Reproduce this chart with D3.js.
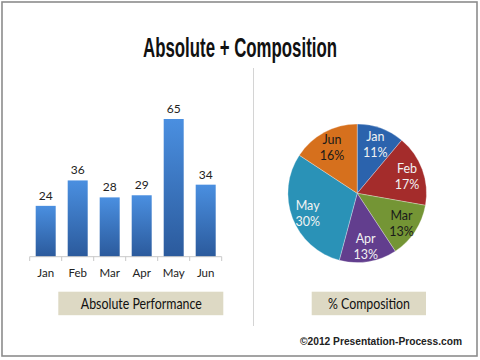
<!DOCTYPE html>
<html><head><meta charset="utf-8">
<script src="https://cdn.jsdelivr.net/npm/d3@7"></script>
<style>body{margin:0;background:#fff}svg{display:block}</style>
</head><body>
<svg id="c" width="480" height="360"></svg>
<script>
const months = ["Jan","Feb","Mar","Apr","May","Jun"];
const values = [24,36,28,29,65,34];
const pieColors = ["#2f6cbd","#b3302f","#7fa33a","#6b449b","#2ea0c8","#ea7a20"];
const pieLabelDark = [false,false,true,false,false,true];
const title = "Absolute + Composition";
const barCaption = "Absolute Performance";
const pieCaption = "% Composition";
const credit = "\u00a92012 Presentation-Process.com";

const svg = d3.select("#c");
const defs = svg.append("defs");
const bg = defs.append("linearGradient").attr("id","barGrad").attr("x1",0).attr("y1",0).attr("x2",0).attr("y2",1);
bg.append("stop").attr("offset","0%").attr("stop-color","#4a8fe0");
bg.append("stop").attr("offset","100%").attr("stop-color","#2b5a9c");

// frame
svg.append("rect").attr("x",2).attr("y",2).attr("width",475).attr("height",354)
  .attr("fill","#fff").attr("stroke","#8c8c8c").attr("stroke-width",1.6);

// title
svg.append("text").attr("x",240).attr("y",57).attr("text-anchor","middle")
  .attr("font-family","'Liberation Sans',Arial,sans-serif")
  .attr("font-weight","bold").attr("font-size",27)
  .attr("textLength",194).attr("lengthAdjust","spacingAndGlyphs")
  .attr("fill","#111").text(title);

// divider
svg.append("line").attr("x1",253.5).attr("x2",253.5).attr("y1",68).attr("y2",326)
  .attr("stroke","#d4d4d4").attr("stroke-width",1);

// bar chart
const x = d3.scaleBand().domain(months).range([29.7,221.7]).paddingInner(0.375).paddingOuter(0.1875);
const y = d3.scaleLinear().domain([0,65]).range([256.7,119]);
const g = svg.append("g");
g.selectAll("rect.bar").data(values).join("rect").attr("class","bar")
  .attr("x",(d,i)=>x(months[i])).attr("width",x.bandwidth())
  .attr("y",d=>y(d)).attr("height",d=>y(0)-y(d)).attr("fill","url(#barGrad)");
g.selectAll("text.val").data(values).join("text").attr("class","val")
  .attr("x",(d,i)=>x(months[i])+x.bandwidth()/2).attr("y",d=>y(d)-6)
  .attr("text-anchor","middle").attr("font-family","Lato,sans-serif").attr("font-size",12)
  .attr("fill","#222").text(d=>d);
// axis
const xAxisScale = d3.scalePoint().domain(d3.range(7)).range([29.7,221.7]);
g.append("line").attr("x1",29.7).attr("x2",221.7).attr("y1",256.7).attr("y2",256.7).attr("stroke","#c8c8c8");
g.selectAll("line.tk").data(d3.range(7)).join("line").attr("class","tk")
  .attr("x1",d=>xAxisScale(d)).attr("x2",d=>xAxisScale(d)).attr("y1",256.7).attr("y2",261)
  .attr("stroke","#c8c8c8");
g.selectAll("text.mo").data(months).join("text").attr("class","mo")
  .attr("x",d=>x(d)+x.bandwidth()/2).attr("y",277).attr("text-anchor","middle")
  .attr("font-family","Lato,sans-serif").attr("font-size",11.5).attr("fill","#222").text(d=>d);

// captions
function caption(cx, x0, x1, text, tl){
  svg.append("rect").attr("x",x0).attr("y",291.7).attr("width",x1-x0).attr("height",23.5).attr("fill","#ddd9c4");
  svg.append("text").attr("x",cx).attr("y",309).attr("text-anchor","middle")
    .attr("font-family","Lato,sans-serif").attr("font-size",15)
    .attr("textLength",tl).attr("lengthAdjust","spacingAndGlyphs")
    .attr("fill","#111").text(text);
}
caption(141.3,58.3,223.3,barCaption,121);
caption(369,311.7,426,pieCaption,82);

// pie
const cx=357.2, cy=193.3, r=69.3;
const pie = d3.pie().sort(null).value(d=>d)(values);
const arc = d3.arc().innerRadius(0).outerRadius(r);
const labelArc = d3.arc().innerRadius(53).outerRadius(53);
const total = d3.sum(values);
pieColors.forEach((c,i)=>{
  const rg = defs.append("radialGradient").attr("id","pg"+i).attr("cx",cx).attr("cy",cy).attr("r",r)
    .attr("gradientUnits","userSpaceOnUse");
  rg.append("stop").attr("offset","0%").attr("stop-color",d3.color(c).brighter(0.15));
  rg.append("stop").attr("offset","100%").attr("stop-color",d3.color(c).darker(0.25));
});
const pg = svg.append("g").attr("transform",`translate(${cx},${cy})`);
pg.selectAll("path").data(pie).join("path").attr("d",arc)
  .attr("fill",(d,i)=>`url(#pg${i})`).attr("stroke","#fff").attr("stroke-width",0.3);
const lab = pg.selectAll("text.pl").data(pie).join("text").attr("class","pl")
  .attr("transform",d=>`translate(${labelArc.centroid(d)})`).attr("text-anchor","middle")
  .attr("font-family","Lato,sans-serif").attr("font-size",12.5)
  .attr("fill",(d,i)=>pieLabelDark[i]?"#1a1a1a":"#f2f2f2");
lab.append("tspan").attr("x",0).attr("dy","-0.2em").text((d,i)=>months[i]);
lab.append("tspan").attr("x",0).attr("dy","1.3em").text(d=>Math.round(d.value/total*100)+"%");

// credit
svg.append("text").attr("x",381).attr("y",345).attr("text-anchor","middle")
  .attr("font-family","'Liberation Sans',Arial,sans-serif").attr("font-weight","bold")
  .attr("font-size",11).attr("textLength",162).attr("lengthAdjust","spacingAndGlyphs")
  .attr("fill","#222").text(credit);
</script>
</body></html>
